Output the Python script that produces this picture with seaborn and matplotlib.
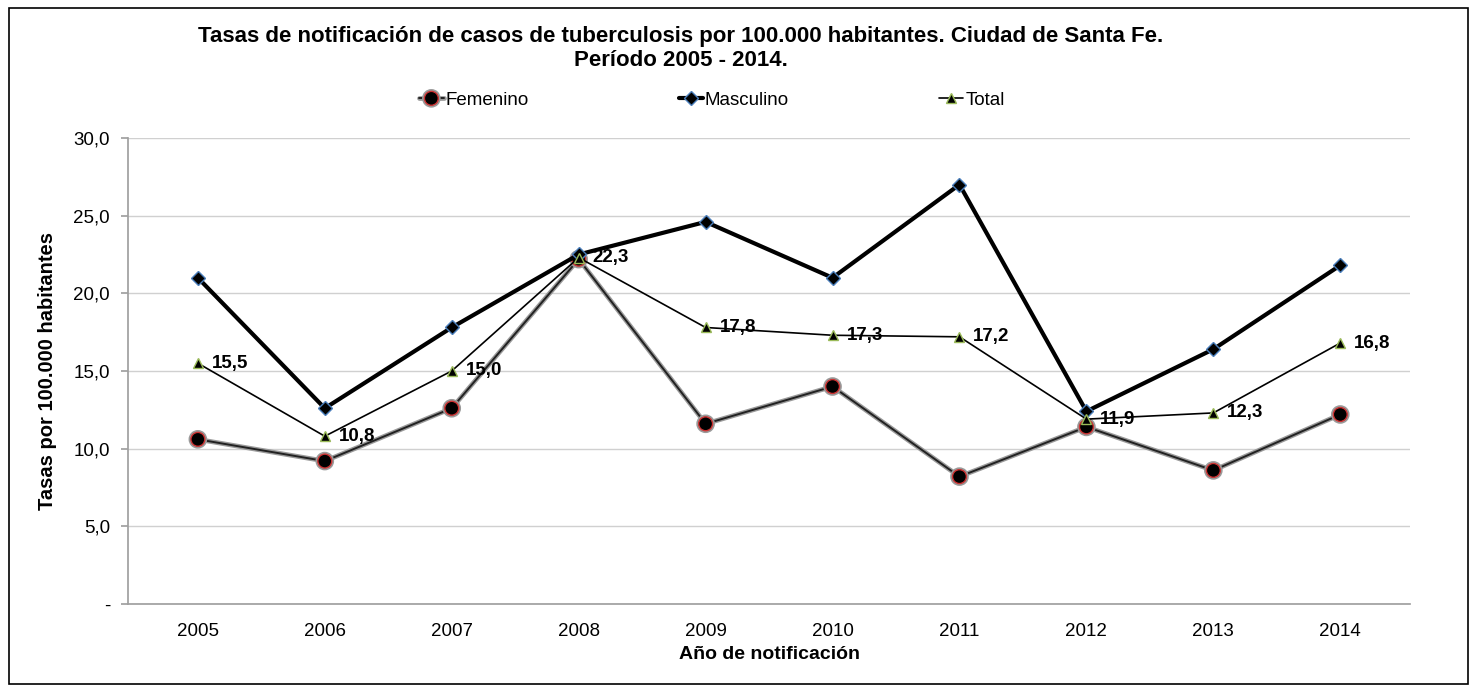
import pandas as pd
import seaborn as sns
import matplotlib.pyplot as plt
import matplotlib.patheffects as pe
from matplotlib.patches import Rectangle

# datos
anios = ['2005', '2006', '2007', '2008', '2009', '2010', '2011', '2012', '2013', '2014']
femenino = [10.6, 9.2, 12.6, 22.2, 11.6, 14.0, 8.2, 11.4, 8.6, 12.2]
masculino = [21.0, 12.6, 17.8, 22.5, 24.6, 21.0, 27.0, 12.4, 16.4, 21.8]
total = [15.5, 10.8, 15.0, 22.3, 17.8, 17.3, 17.2, 11.9, 12.3, 16.8]

sns.set_theme(style='white')
plt.rcParams['font.family'] = ['Liberation Sans', 'DejaVu Sans']
plt.rcParams['text.color'] = 'black'
plt.rcParams['xtick.color'] = 'black'
plt.rcParams['ytick.color'] = 'black'
plt.rcParams['axes.labelcolor'] = 'black'

df = pd.DataFrame({'anio': anios, 'Femenino': femenino,
                   'Masculino': masculino, 'Total': total})
df['pos'] = range(len(anios))

fig = plt.figure(figsize=(14.77, 6.92), dpi=100)
ax = fig.add_axes([0.0867, 0.1272, 0.868, 0.6734])

# marco exterior
fig.patches.append(Rectangle((0.006, 0.012), 0.988, 0.976, transform=fig.transFigure,
                             fill=False, edgecolor='black', linewidth=1.2))

sns.lineplot(data=df, x='pos', y='Femenino', ax=ax, color='#222222', linewidth=1.4,
             marker='o', markersize=10, markerfacecolor='black',
             markeredgecolor='#cc3333', markeredgewidth=1, label='Femenino',
             path_effects=[pe.Stroke(linewidth=3.4, foreground='#9a9a9a'), pe.Normal()])
sns.lineplot(data=df, x='pos', y='Masculino', ax=ax, color='black', linewidth=3,
             marker='D', markersize=7, markerfacecolor='black',
             markeredgecolor='#4a7ebb', markeredgewidth=1, label='Masculino')
sns.lineplot(data=df, x='pos', y='Total', ax=ax, color='black', linewidth=1.2,
             marker='^', markersize=6.5, markerfacecolor='black',
             markeredgecolor='#9bbb59', markeredgewidth=1, label='Total')

for x, v in zip(df['pos'], total):
    ax.annotate(f'{v:.1f}'.replace('.', ','), (x, v), xytext=(10, 0),
                textcoords='offset points', fontsize=13.5, fontweight='bold',
                va='center', ha='left')

ax.set_xlim(-0.55, len(anios) - 0.45)
ax.set_ylim(0, 30)
ax.set_xticks(df['pos'])
ax.set_xticklabels(anios, fontsize=13.5)
yt = [0, 5, 10, 15, 20, 25, 30]
ax.set_yticks(yt)
ax.set_yticklabels(['-'] + [f'{t:.1f}'.replace('.', ',') for t in yt[1:]], fontsize=13.5)
ax.yaxis.grid(True, color='#d0d0d0', linewidth=1)
ax.tick_params(axis='y', left=True, length=5, color='#a0a0a0', pad=8)
ax.tick_params(axis='x', bottom=False, pad=8)
for s in ['top', 'right']:
    ax.spines[s].set_visible(False)
for s in ['left', 'bottom']:
    ax.spines[s].set_color('#a0a0a0')

ax.set_xlabel('Año de notificación', fontsize=14, fontweight='bold', labelpad=4)
ax.set_ylabel('Tasas por 100.000 habitantes', fontsize=14.5, fontweight='bold', labelpad=12)

ax.get_legend().remove()
handles, labels = ax.get_legend_handles_labels()
fig.legend(handles, labels, loc='center', bbox_to_anchor=(0.482, 0.855), ncol=3,
           frameon=False, fontsize=13.5, handlelength=1.3, columnspacing=8.0,
           handletextpad=0.1)

fig.text(0.461, 0.93, 'Tasas de notificación de casos de tuberculosis por 100.000 habitantes. Ciudad de Santa Fe.\nPeríodo 2005 - 2014.',
         ha='center', va='center', fontsize=16, fontweight='bold', linespacing=1.15)

fig.savefig('out.png', dpi=100)
